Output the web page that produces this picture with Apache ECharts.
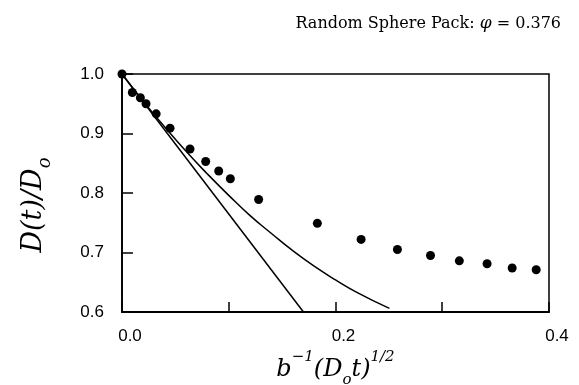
<!DOCTYPE html>
<html>
<head>
<meta charset="utf-8">
<script src="https://cdn.jsdelivr.net/npm/echarts@6/dist/echarts.min.js"></script>
<style>
  html, body { margin: 0; padding: 0; background: #fff; }
  #chart { width: 579px; height: 385px; }
</style>
</head>
<body>
<div id="chart"></div>
<script>
// Measured diffusion ratio D(t)/D0 versus scaled root time
const measuredX = [0, 0.0097, 0.0172, 0.0225, 0.032, 0.045, 0.0637, 0.0784, 0.0906, 0.1015,
                   0.128, 0.183, 0.224, 0.258, 0.289, 0.316, 0.342, 0.3655, 0.388];
const measuredY = [1.0, 0.969, 0.960, 0.950, 0.933, 0.909, 0.874, 0.853, 0.837, 0.824,
                   0.789, 0.749, 0.722, 0.705, 0.695, 0.686, 0.681, 0.674, 0.671];

// Short-time limiting slope
const linearX = [0, 0.170];
const linearY = [1.0, 0.6];

// Higher-order short-time curve
const curveX = [0, 0.02, 0.04, 0.06, 0.08, 0.10, 0.12, 0.14, 0.16, 0.18, 0.20, 0.22, 0.2505];
const curveY = [1.0, 0.954, 0.911, 0.870, 0.832, 0.796, 0.762, 0.732, 0.703, 0.677, 0.654, 0.633, 0.606];

const xTickLabels = ['0.0', '0.2', '0.4'];
const yTickLabels = ['0.6', '0.7', '0.8', '0.9', '1.0'];

const pairs = (xs, ys) => xs.map((x, i) => [x, ys[i]]);

const chart = echarts.init(document.getElementById('chart'), null, { renderer: 'canvas' });

const serif = '"DejaVu Serif", serif';
const sans = '"Liberation Sans", Arial, sans-serif';

chart.setOption({
  animation: false,
  backgroundColor: '#fff',
  title: {
    text: 'Random Sphere Pack: {i|φ} = 0.376',
    right: 13,
    top: 10,
    textStyle: {
      fontFamily: serif,
      fontSize: 16,
      fontWeight: 'normal',
      color: '#000',
      rich: {
        i: { fontFamily: serif, fontStyle: 'italic', fontSize: 17, color: '#000' }
      }
    }
  },
  grid: {
    left: 122, right: 30, top: 74, bottom: 73,
    containLabel: false,
    outerBoundsMode: 'none',
    show: true, borderColor: '#000', borderWidth: 1.5, backgroundColor: 'transparent'
  },
  xAxis: {
    type: 'value',
    min: 0, max: 0.4, interval: 0.1,
    axisLine: { show: true, lineStyle: { color: '#000', width: 1.8 } },
    axisTick: { show: true, inside: true, length: 10, lineStyle: { color: '#000', width: 1.5 } },
    splitLine: { show: false },
    axisLabel: {
      margin: 16,
      padding: [0, 0, 0, 16],
      fontFamily: sans, fontSize: 17, color: '#000',
      formatter: v => {
        const s = v.toFixed(1);
        return xTickLabels.includes(s) ? s : '';
      }
    },
    name: '{i|b}{sup|−1}{i|(D}{sub|o}{i|t)}{sup|1/2}',
    nameLocation: 'middle',
    nameGap: 38,
    nameTextStyle: {
      rich: {
        i: { fontFamily: serif, fontStyle: 'italic', fontSize: 24, color: '#000', lineHeight: 32, verticalAlign: 'bottom' },
        sup: { fontFamily: serif, fontStyle: 'italic', fontSize: 15, color: '#000', lineHeight: 32, verticalAlign: 'top' },
        sub: { fontFamily: serif, fontStyle: 'italic', fontSize: 15, color: '#000', lineHeight: 32, verticalAlign: 'bottom', padding: [0, 0, -6, 0] }
      }
    }
  },
  yAxis: {
    type: 'value',
    min: 0.6, max: 1.0, interval: 0.1,
    axisLine: { show: true, lineStyle: { color: '#000', width: 1.8 } },
    axisTick: { show: true, inside: true, length: 11, lineStyle: { color: '#000', width: 1.5 } },
    splitLine: { show: false },
    axisLabel: {
      margin: 18,
      fontFamily: sans, fontSize: 17, color: '#000',
      formatter: v => {
        const s = v.toFixed(1);
        return yTickLabels.includes(s) ? s : '';
      }
    },
    name: '{i|D(t)/D}{sub|o}',
    nameLocation: 'middle',
    nameGap: 75,
    nameRotate: 90,
    nameTextStyle: {
      padding: [0, 24, 0, 0],
      rich: {
        i: { fontFamily: serif, fontStyle: 'italic', fontSize: 27, color: '#000', lineHeight: 32, verticalAlign: 'bottom' },
        sub: { fontFamily: serif, fontStyle: 'italic', fontSize: 18, color: '#000', lineHeight: 32, verticalAlign: 'bottom', padding: [0, 0, -7, 0] }
      }
    }
  },
  series: [
    {
      name: 'linear',
      type: 'line',
      data: pairs(linearX, linearY),
      showSymbol: false,
      lineStyle: { color: '#000', width: 1.5 },
      z: 2
    },
    {
      name: 'curve',
      type: 'line',
      data: pairs(curveX, curveY),
      smooth: true,
      showSymbol: false,
      lineStyle: { color: '#000', width: 1.5 },
      z: 2
    },
    {
      name: 'measured',
      type: 'scatter',
      data: pairs(measuredX, measuredY),
      symbol: 'circle',
      symbolSize: 9,
      clip: false,
      itemStyle: { color: '#000', opacity: 1 },
      z: 3
    }
  ]
});
</script>
</body>
</html>
